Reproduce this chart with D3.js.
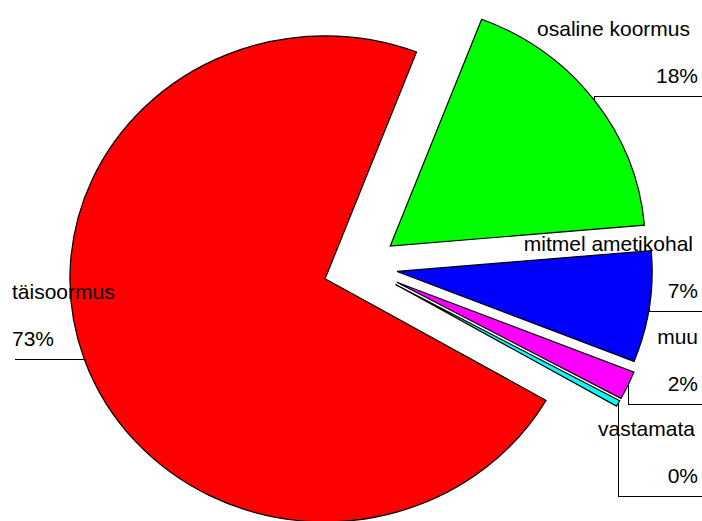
<!DOCTYPE html>
<html>
<head>
<meta charset="utf-8">
<script src="https://cdn.jsdelivr.net/npm/d3@7"></script>
<style>
  html, body { margin: 0; padding: 0; background: #fff; }
  svg { display: block; overflow: hidden; }
  text { font-family: "Liberation Sans", Arial, sans-serif; font-size: 21px; fill: #000; }
</style>
</head>
<body>
<svg id="chart" width="702" height="521"></svg>
<script>
// ---- data (pie order, clockwise from the green slice) ----
const categories = ["osaline koormus", "mitmel ametikohal", "muu", "vastamata", "täisoormus"];
const values     = [17.8, 7.4, 1.9, 0.4, 72.5];
const colors     = ["#00ff00", "#0000ff", "#ff00ff", "#00ffff", "#ff0000"];

// ---- layout (label placement) ----
const leaderY    = [96, 311, 404, 496, 359];
const labelSide  = ["right", "right", "right", "right", "left"];
const nameEndX   = [690, 693, 698, 695, 12];
const explodeBy  = [34, 34, 37, 37, 37];

const W = 702, H = 521;
const cx = 361.7, cy = 266.5;
const R = 243, xStretch = 1.05;
const start = 21 * Math.PI / 180;

const svg = d3.select("#chart");

const pie = d3.pie().sort(null).value(d => d)
  .startAngle(start).endAngle(start + 2 * Math.PI);
const arcs = pie(values);
const arc = d3.arc().innerRadius(0).outerRadius(R);

const g = svg.append("g")
  .attr("transform", `translate(${cx},${cy}) scale(${xStretch},1)`);

g.selectAll("path").data(arcs).enter().append("path")
  .attr("d", arc)
  .attr("transform", (d, i) => {
    const m = (d.startAngle + d.endAngle) / 2;
    return `translate(${Math.sin(m) * explodeBy[i]},${-Math.cos(m) * explodeBy[i]})`;
  })
  .attr("fill", (d, i) => colors[i])
  .attr("stroke", "#000")
  .attr("stroke-width", 1.2)
  .attr("vector-effect", "non-scaling-stroke");

// leader lines & labels
const fmt = v => Math.round(v) + "%";
arcs.forEach((d, i) => {
  const m = (d.startAngle + d.endAngle) / 2;
  const px = Math.round(cx + Math.sin(m) * (R + explodeBy[i]) * xStretch) + 0.5;
  const py = Math.round(cy - Math.cos(m) * (R + explodeBy[i]));
  const L = leaderY[i] + 0.5;
  const right = labelSide[i] === "right";
  const endX = right ? W + 2 : 15;
  const pts = [[px, py], [px, L], [endX, L]];
  svg.append("path")
    .attr("d", d3.line()(pts))
    .attr("fill", "none")
    .attr("stroke", "#000")
    .attr("stroke-width", 1)
    .attr("shape-rendering", "crispEdges");

  svg.append("text")
    .attr("x", nameEndX[i])
    .attr("y", leaderY[i] - 60)
    .attr("text-anchor", right ? "end" : "start")
    .text(categories[i]);
  svg.append("text")
    .attr("x", right ? 698 : 12)
    .attr("y", leaderY[i] - 13)
    .attr("text-anchor", right ? "end" : "start")
    .text(fmt(values[i]));
});
</script>
</body>
</html>
